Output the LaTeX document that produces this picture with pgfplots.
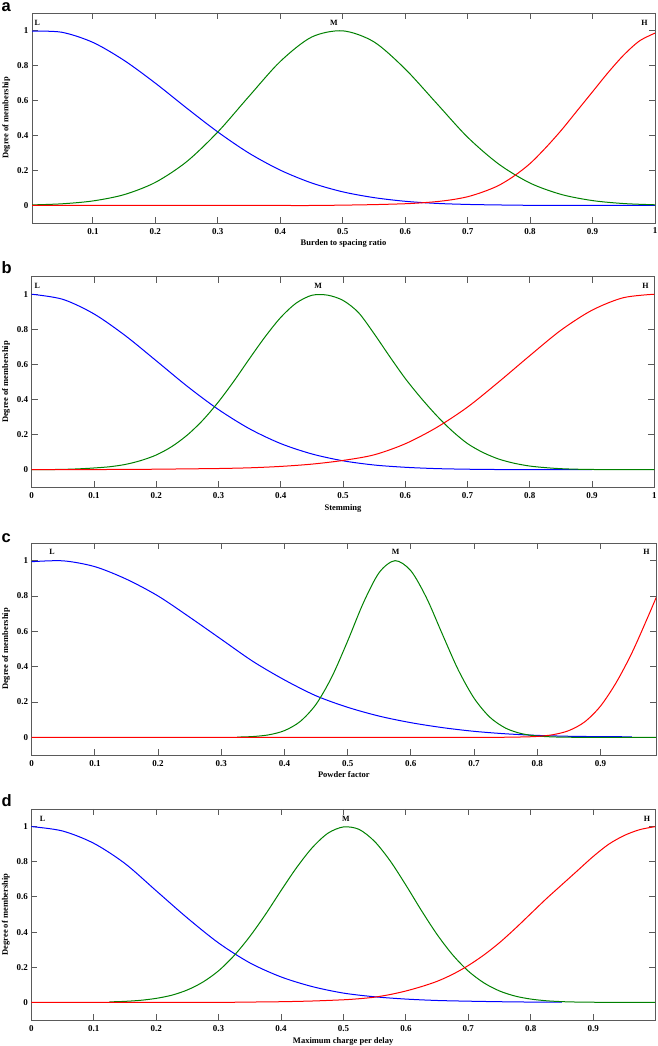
\documentclass[border=0pt]{standalone}
\usepackage{fontspec}
\setmainfont{Liberation Serif}
\newfontfamily\sansbf{Liberation Sans}
\usepackage{pgfplots}
\pgfplotsset{compat=1.18}
\definecolor{mblue}{RGB}{0,0,255}
\definecolor{mgreen}{RGB}{0,128,0}
\definecolor{mred}{RGB}{255,0,0}
\definecolor{axgray}{RGB}{90,90,90}
\tikzset{mflab/.style={font=\bfseries\fontsize{8}{9}\selectfont}}
\pgfplotsset{mfstyle/.style={
  scale only axis, anchor=south west,
  ymin=-0.1, ymax=1.1,
  ytick={0,0.2,0.4,0.6,0.8,1}, yticklabels={0,0.2,0.4,0.6,0.8,1},
  tick align=inside, major tick length=6pt,
  axis line style={axgray, line width=0.9pt},
  every tick/.style={axgray, line width=0.9pt},
  /pgf/number format/assume math mode=true,
  tick label style={font=\bfseries\fontsize{9}{10}\selectfont},
  xticklabel style={yshift=-1.5pt},
  label style={font=\bfseries\fontsize{8.5}{10}\selectfont},
  xlabel style={at={(axis description cs:0.5,0)}, anchor=base, yshift=-23pt},
  ylabel style={at={(axis description cs:0,0.5)}, anchor=base, yshift=23.5pt},
  ylabel={Degree of membership},
  every axis plot/.append style={line width=1pt, smooth},
}}
\begin{document}
\begin{tikzpicture}
\path[use as bounding box] (0,0) rectangle (657pt,1046pt);
% panel letters
\node[anchor=base west, inner sep=0pt, font=\sansbf\bfseries\fontsize{16.5}{18}\selectfont] at (1.5pt,1034pt) {a};
\node[anchor=base west, inner sep=0pt, font=\sansbf\bfseries\fontsize{16.5}{18}\selectfont] at (1.5pt,772pt) {b};
\node[anchor=base west, inner sep=0pt, font=\sansbf\bfseries\fontsize{16.5}{18}\selectfont] at (1.5pt,503.3pt) {c};
\node[anchor=base west, inner sep=0pt, font=\sansbf\bfseries\fontsize{16.5}{18}\selectfont] at (1.5pt,239pt) {d};

% ---------------- panel a
\begin{axis}[mfstyle, at={(32pt,823pt)}, width=623pt, height=210pt,
  xmin=0.0025, xmax=1,
  xtick={0.1,0.2,0.3,0.4,0.5,0.6,0.7,0.8,0.9,1},
  xticklabels={0.1,0.2,0.3,0.4,0.5,0.6,0.7,0.8,0.9,1},
  xlabel={Burden to spacing ratio}]
\addplot[mblue] coordinates {(0,0.996)(0.05,0.990)(0.1,0.932)(0.15,0.829)(0.2,0.699)(0.25,0.557)(0.3,0.420)(0.35,0.299)(0.4,0.202)(0.45,0.129)(0.5,0.078)(0.55,0.045)(0.6,0.024)(0.65,0.012)(0.7,0.006)(0.75,0.003)(0.8,0.001)(0.85,0.0005)(0.9,0.0002)(0.95,0.0001)(1.0,0)};
\addplot[mgreen] coordinates {(0,0.0031)(0.05,0.0095)(0.1,0.026)(0.15,0.062)(0.2,0.132)(0.25,0.25)(0.3,0.42)(0.35,0.624)(0.4,0.823)(0.45,0.962)(0.5,0.998)(0.55,0.935)(0.6,0.78)(0.65,0.585)(0.7,0.39)(0.75,0.236)(0.8,0.128)(0.85,0.063)(0.9,0.028)(0.95,0.011)(1.0,0.004)};
\addplot[mred] coordinates {(0,0)(0.05,0)(0.1,0)(0.15,0)(0.2,0)(0.25,0)(0.3,0)(0.35,0)(0.4,0)(0.45,0)(0.5,0.002)(0.55,0.005)(0.6,0.01)(0.625,0.015)(0.65,0.022)(0.675,0.033)(0.7,0.05)(0.725,0.078)(0.75,0.115)(0.775,0.17)(0.8,0.24)(0.825,0.33)(0.85,0.43)(0.875,0.54)(0.9,0.65)(0.925,0.76)(0.95,0.86)(0.975,0.94)(1.0,0.985)};
\node[mflab] at (axis cs:0.011,1.046) {L};
\node[mflab] at (axis cs:0.486,1.046) {M};
\node[mflab] at (axis cs:0.983,1.046) {H};
\end{axis}

% ---------------- panel b
\begin{axis}[mfstyle, at={(31.7pt,558.7pt)}, width=622.6pt, height=210.6pt,
  xmin=0, xmax=1,
  xtick={0,0.1,0.2,0.3,0.4,0.5,0.6,0.7,0.8,0.9,1},
  xticklabels={0,0.1,0.2,0.3,0.4,0.5,0.6,0.7,0.8,0.9,1},
  xlabel={Stemming}]
\addplot[mblue] coordinates {(0,1)(0.05,0.971)(0.1,0.888)(0.15,0.765)(0.2,0.621)(0.25,0.475)(0.3,0.343)(0.35,0.233)(0.4,0.149)(0.45,0.090)(0.5,0.051)(0.55,0.027)(0.6,0.014)(0.65,0.0065)(0.7,0.003)(0.75,0.0012)(0.8,0.0005)(0.85,0.0002)(0.9,0)};
\addplot[mgreen] coordinates {(0,0.0004)(0.025,0.001)(0.05,0.002)(0.075,0.005)(0.1,0.01)(0.125,0.017)(0.15,0.03)(0.175,0.052)(0.2,0.084)(0.225,0.132)(0.25,0.198)(0.275,0.283)(0.3,0.387)(0.325,0.506)(0.35,0.634)(0.375,0.758)(0.4,0.868)(0.425,0.95)(0.45,0.994)(0.475,0.995)(0.5,0.965)(0.525,0.895)(0.55,0.775)(0.575,0.645)(0.6,0.52)(0.625,0.41)(0.65,0.31)(0.675,0.222)(0.7,0.149)(0.725,0.098)(0.75,0.061)(0.775,0.037)(0.8,0.021)(0.825,0.012)(0.85,0.006)(0.875,0.003)(0.9,0.0015)(0.925,0.0007)(0.95,0.0003)(0.975,0.0001)(1.0,0)};
\addplot[mred] coordinates {(0,0)(0.05,0.0005)(0.1,0.001)(0.15,0.002)(0.2,0.003)(0.25,0.005)(0.3,0.007)(0.35,0.011)(0.4,0.019)(0.45,0.032)(0.5,0.053)(0.55,0.085)(0.6,0.148)(0.65,0.24)(0.7,0.357)(0.75,0.50)(0.8,0.65)(0.85,0.795)(0.9,0.909)(0.95,0.98)(1.0,1.0)};
\node[mflab] at (axis cs:0.009,1.047) {L};
\node[mflab] at (axis cs:0.46,1.047) {M};
\node[mflab] at (axis cs:0.986,1.047) {H};
\end{axis}

% ---------------- panel c
\begin{axis}[mfstyle, at={(31.7pt,291pt)}, width=624.3pt, height=212pt,
  xmin=0, xmax=0.988,
  xtick={0,0.1,0.2,0.3,0.4,0.5,0.6,0.7,0.8,0.9},
  xticklabels={0,0.1,0.2,0.3,0.4,0.5,0.6,0.7,0.8,0.9},
  xlabel={Powder factor}]
\addplot[mblue] coordinates {(0,0.994)(0.05,0.999)(0.1,0.966)(0.15,0.895)(0.2,0.80)(0.25,0.68)(0.3,0.555)(0.35,0.43)(0.4,0.325)(0.45,0.235)(0.5,0.17)(0.55,0.12)(0.6,0.083)(0.65,0.055)(0.7,0.034)(0.75,0.02)(0.8,0.011)(0.85,0.006)(0.9,0.004)(0.95,0.003)};
\addplot[mgreen] coordinates {(0.325,0.0013)(0.35,0.0045)(0.375,0.014)(0.4,0.038)(0.425,0.09)(0.45,0.187)(0.475,0.342)(0.5,0.545)(0.525,0.762)(0.55,0.933)(0.575,1.0)(0.6,0.943)(0.625,0.788)(0.65,0.583)(0.675,0.382)(0.7,0.222)(0.725,0.114)(0.75,0.052)(0.775,0.021)(0.8,0.0075)(0.825,0.0024)(0.85,0.0006)(0.875,0)(0.9,0)(0.925,0)(0.95,0)(0.975,0)(1.0,0)};
\addplot[mred] coordinates {(0,0)(0.05,0)(0.1,0)(0.15,0)(0.2,0)(0.25,0)(0.3,0)(0.35,0)(0.4,0)(0.45,0)(0.5,0)(0.55,0)(0.6,0)(0.65,0)(0.7,0)(0.725,0.0002)(0.75,0.0005)(0.775,0.002)(0.8,0.005)(0.825,0.015)(0.85,0.038)(0.875,0.087)(0.9,0.176)(0.925,0.31)(0.95,0.479)(0.975,0.68)(1.0,0.89)};
\node[mflab] at (axis cs:0.032,1.048) {L};
\node[mflab] at (axis cs:0.576,1.048) {M};
\node[mflab] at (axis cs:0.973,1.048) {H};
\end{axis}

% ---------------- panel d
\begin{axis}[mfstyle, at={(31.3pt,26pt)}, width=623.7pt, height=211pt,
  xmin=0, xmax=0.999,
  xtick={0,0.1,0.2,0.3,0.4,0.5,0.6,0.7,0.8,0.9},
  xticklabels={0,0.1,0.2,0.3,0.4,0.5,0.6,0.7,0.8,0.9},
  xlabel={Maximum charge per delay}]
\addplot[mblue] coordinates {(0,1)(0.05,0.975)(0.1,0.905)(0.15,0.79)(0.2,0.635)(0.25,0.48)(0.3,0.338)(0.35,0.225)(0.4,0.145)(0.45,0.09)(0.5,0.053)(0.55,0.032)(0.6,0.019)(0.65,0.011)(0.7,0.007)(0.75,0.004)(0.8,0.002)(0.85,0.001)};
\addplot[mgreen] coordinates {(0.125,0.003)(0.15,0.006)(0.175,0.012)(0.2,0.023)(0.225,0.041)(0.25,0.071)(0.275,0.116)(0.3,0.18)(0.325,0.267)(0.35,0.375)(0.375,0.50)(0.4,0.636)(0.425,0.767)(0.45,0.88)(0.475,0.962)(0.5,0.998)(0.525,0.984)(0.55,0.915)(0.575,0.804)(0.6,0.667)(0.625,0.522)(0.65,0.386)(0.675,0.27)(0.7,0.178)(0.725,0.111)(0.75,0.065)(0.775,0.036)(0.8,0.019)(0.825,0.0094)(0.85,0.0044)(0.875,0.002)(0.9,0.001)(0.925,0.0005)(0.95,0.0002)(0.975,0.0001)(1.0,0)};
\addplot[mred] coordinates {(0,0)(0.05,0)(0.1,0)(0.15,0)(0.2,0)(0.25,0)(0.3,0)(0.35,0.002)(0.4,0.004)(0.45,0.008)(0.5,0.015)(0.525,0.021)(0.55,0.03)(0.575,0.045)(0.6,0.065)(0.625,0.09)(0.65,0.12)(0.675,0.16)(0.7,0.21)(0.725,0.27)(0.75,0.34)(0.775,0.42)(0.8,0.505)(0.825,0.59)(0.85,0.67)(0.875,0.75)(0.9,0.83)(0.925,0.90)(0.95,0.95)(0.975,0.983)(1.0,1.0)};
\node[mflab] at (axis cs:0.018,1.044) {L};
\node[mflab] at (axis cs:0.504,1.044) {M};
\node[mflab] at (axis cs:0.986,1.044) {H};
\end{axis}
\end{tikzpicture}
\end{document}
